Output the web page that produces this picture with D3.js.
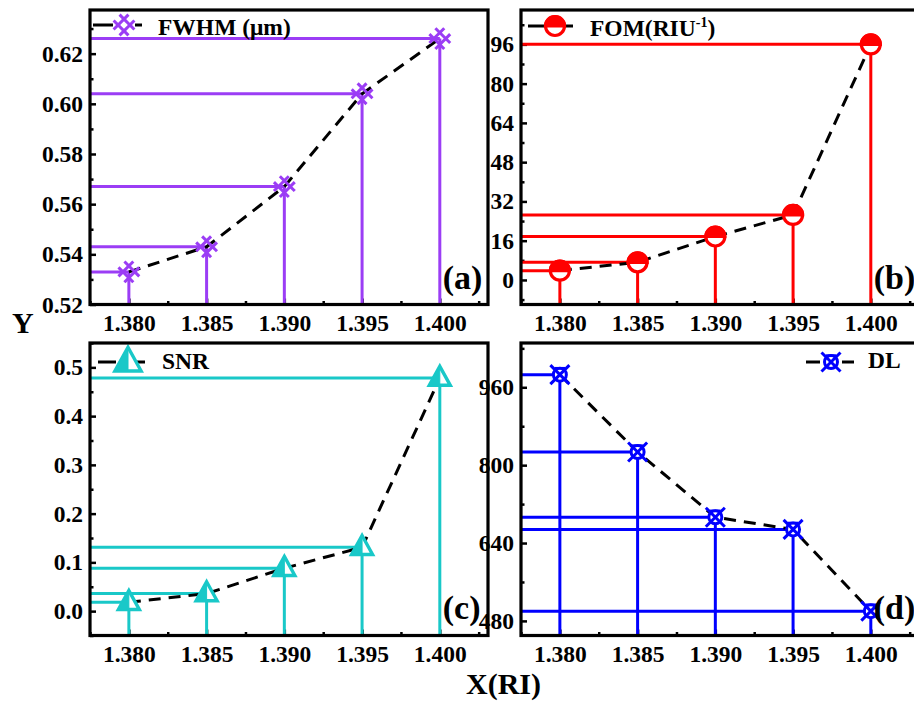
<!DOCTYPE html>
<html>
<head>
<meta charset="utf-8">
<script src="https://cdn.jsdelivr.net/npm/d3@7"></script>
<style>
  body { margin: 0; background: #fff; }
  svg { display: block; }
  text { font-family: "Liberation Serif", "Times New Roman", serif; font-weight: bold; fill: #000; }
</style>
</head>
<body>
<svg id="chart" width="914" height="703"></svg>
<script>
// Refractive index values (shared x for all four panels)
const riValues = [1.380, 1.385, 1.390, 1.395, 1.400];
const xTickValues = [1.380, 1.385, 1.390, 1.395, 1.400];
const xTickLabels = ["1.380", "1.385", "1.390", "1.395", "1.400"];

// Sensor metrics
const fwhmValues = [0.533, 0.543, 0.567, 0.604, 0.626];
const fomValues = [3.8, 7.2, 17.7, 26.5, 96];
const snrValues = [0.018, 0.036, 0.088, 0.131, 0.478];
const dlValues = [986, 827, 693, 668, 500];

// Y tick values per panel
const fwhmTicks = [0.52, 0.54, 0.56, 0.58, 0.60, 0.62];
const fomTicks = [0, 16, 32, 48, 64, 80, 96];
const snrTicks = [0.0, 0.1, 0.2, 0.3, 0.4, 0.5];
const dlTicks = [480, 640, 800, 960];

const panelLetters = ["(a)", "(b)", "(c)", "(d)"];

const svg = d3.select("#chart");
const FONT = 23.5;

const panels = [
  { values: fwhmValues, ticks: fwhmTicks, fmt: d3.format(".2f"), minor: 0.01,
    box: { l: 90, t: 10, r: 488, b: 304.5 }, yDomain: [0.52, 0.6374],
    color: "#9B3DF5", marker: "hash", name: "FWHM (μm)",
    legend: { mx: 34, my: 15, l0: -31, l1: -11, r0: 11, r1: 18, tx: 68, ty: 25 } },
  { values: fomValues, ticks: fomTicks, fmt: d3.format("d"), minor: 8,
    box: { l: 521, t: 10, r: 919, b: 304.5 }, yDomain: [-10, 110],
    color: "#FF0000", marker: "halfCircle", name: "FOM",
    legend: { mx: 34, my: 16, l0: -27, l1: -11, r0: 11, r1: 18, tx: 69, ty: 26 } },
  { values: snrValues, ticks: snrTicks, fmt: d3.format(".1f"), minor: 0.05,
    box: { l: 90, t: 343, r: 488, b: 635.5 }, yDomain: [-0.05, 0.55],
    color: "#19C8C8", marker: "triangle", name: "SNR",
    legend: { mx: 38, my: 19, l0: -30, l1: -12, r0: 8, r1: 17, tx: 72, ty: 26 } },
  { values: dlValues, ticks: dlTicks, fmt: d3.format("d"), minor: 80,
    box: { l: 521, t: 343, r: 919, b: 635.5 }, yDomain: [450, 1051],
    color: "#0000FF", marker: "crossCircle", name: "DL",
    legend: { mx: 310, my: 19, l0: -25, l1: -11, r0: 11, r1: 23, tx: 347, ty: 25 } }
];

function drawMarker(g, type, color, cx, cy, s) {
  const m = g.append("g").attr("transform", `translate(${cx},${cy})`);
  const sw = 3;
  if (type === "hash") {
    const L = 10.5 * s, d = 4.2 * s;
    // two pairs of parallel diagonals (a rotated '#')
    [[-1, 1], [1, 1]].forEach(([ux, uy]) => {
      const n = Math.SQRT1_2;
      const dx = ux * n, dy = uy * n;      // direction
      const px = -dy, py = dx;             // perpendicular
      [-d, d].forEach(o => {
        m.append("line")
          .attr("x1", -dx * L + px * o).attr("y1", -dy * L + py * o)
          .attr("x2", dx * L + px * o).attr("y2", dy * L + py * o)
          .attr("stroke", color).attr("stroke-width", sw);
      });
    });
  } else if (type === "halfCircle") {
    const r = 9.5 * s;
    m.append("circle").attr("r", r).attr("fill", "#fff")
      .attr("stroke", color).attr("stroke-width", 3.2);
    m.append("path")
      .attr("d", `M${-r},0 A${r},${r} 0 0 1 ${r},0 Z`)
      .attr("fill", color).attr("stroke", color).attr("stroke-width", 3.2);
  } else if (type === "triangle") {
    const w = 10.5 * s, h = 19 * s;
    const top = -h * 0.62, base = h * 0.38;
    m.append("path")
      .attr("d", `M0,${top} L${w},${base} L${-w},${base} Z`)
      .attr("fill", "#fff").attr("stroke", color).attr("stroke-width", 3.4)
      .attr("stroke-linejoin", "miter");
    m.append("path")
      .attr("d", `M0,${top} L0,${base} L${-w},${base} Z`)
      .attr("fill", color).attr("stroke", color).attr("stroke-width", 1);
  } else if (type === "crossCircle") {
    const L = 9.5 * s, r = 6.5 * s;
    m.append("circle").attr("r", r).attr("fill", "#fff")
      .attr("stroke", color).attr("stroke-width", sw);
    m.append("line").attr("x1", -L).attr("y1", -L).attr("x2", L).attr("y2", L)
      .attr("stroke", color).attr("stroke-width", sw);
    m.append("line").attr("x1", -L).attr("y1", L).attr("x2", L).attr("y2", -L)
      .attr("stroke", color).attr("stroke-width", sw);
    m.append("line").attr("x1", -L * 0.55).attr("y1", -r).attr("x2", L * 0.55).attr("y2", -r)
      .attr("stroke", color).attr("stroke-width", 2.4);
  }
}

const frameLayer = [];

panels.forEach((p, i) => {
  const { l, t, r, b } = p.box;
  const x = d3.scaleLinear().domain([1.3775, 1.4031]).range([l, r]);
  const y = d3.scaleLinear().domain(p.yDomain).range([b, t]);
  const g = svg.append("g");

  // axes: major ticks pointing inward, minor ticks between
  const xMinor = d3.range(1.3775, 1.4031, 0.0025).filter(v => Math.abs(((v - 1.38) / 0.005) - Math.round((v - 1.38) / 0.005)) > 0.1);
  const xAxis = g.append("g").attr("transform", `translate(0,${b})`)
    .call(d3.axisBottom(x).tickValues(xTickValues)
      .tickFormat((d, k) => xTickLabels[k]).tickSize(-6).tickPadding(10));
  xAxis.select(".domain").remove();
  xAxis.selectAll("text").style("font-size", FONT + "px");
  xAxis.selectAll("line").attr("stroke-width", 2.5);
  const xAxisMinor = g.append("g").attr("transform", `translate(0,${b})`)
    .call(d3.axisBottom(x).tickValues(xMinor).tickFormat("").tickSize(-3.5));
  xAxisMinor.select(".domain").remove();
  xAxisMinor.selectAll("line").attr("stroke-width", 2.5);

  const [y0, y1] = p.yDomain;
  const yMinor = d3.range(Math.ceil(y0 / p.minor) * p.minor, y1, p.minor)
    .filter(v => !p.ticks.some(tk => Math.abs(tk - v) < p.minor * 0.1));
  const yAxis = g.append("g").attr("transform", `translate(${l},0)`)
    .call(d3.axisLeft(y).tickValues(p.ticks).tickFormat(p.fmt).tickSize(-6).tickPadding(7));
  yAxis.select(".domain").remove();
  yAxis.selectAll("text").style("font-size", FONT + "px");
  yAxis.selectAll("line").attr("stroke-width", 2.5);
  const yAxisMinor = g.append("g").attr("transform", `translate(${l},0)`)
    .call(d3.axisLeft(y).tickValues(yMinor).tickFormat("").tickSize(-3.5));
  yAxisMinor.select(".domain").remove();
  yAxisMinor.selectAll("line").attr("stroke-width", 2.5);

  const pts = riValues.map((ri, k) => ({ ri, v: p.values[k] }));

  // drop lines to the left and bottom axes
  g.selectAll(".hdrop").data(pts).enter().append("line")
    .attr("x1", l).attr("x2", d => x(d.ri))
    .attr("y1", d => y(d.v)).attr("y2", d => y(d.v))
    .attr("stroke", p.color).attr("stroke-width", 3);
  g.selectAll(".vdrop").data(pts).enter().append("line")
    .attr("x1", d => x(d.ri)).attr("x2", d => x(d.ri))
    .attr("y1", d => y(d.v)).attr("y2", b)
    .attr("stroke", p.color).attr("stroke-width", 3);

  // dashed connecting line
  g.append("path").datum(pts)
    .attr("d", d3.line().x(d => x(d.ri)).y(d => y(d.v)))
    .attr("fill", "none").attr("stroke", "#000").attr("stroke-width", 3)
    .attr("stroke-dasharray", "12,8");

  pts.forEach(d => drawMarker(g, p.marker, p.color, x(d.ri), y(d.v), 1));

  // legend
  const lg = p.legend;
  const mx = l + lg.mx, my = t + lg.my;
  g.append("line").attr("x1", mx + lg.l0).attr("x2", mx + lg.l1).attr("y1", my).attr("y2", my)
    .attr("stroke", "#000").attr("stroke-width", 3);
  g.append("line").attr("x1", mx + lg.r0).attr("x2", mx + lg.r1).attr("y1", my).attr("y2", my)
    .attr("stroke", "#000").attr("stroke-width", 3);
  drawMarker(g, p.marker, p.color, mx, my, p.marker === "triangle" ? 1.25 : 1);
  const lt = g.append("text").attr("x", l + lg.tx).attr("y", t + lg.ty).style("font-size", FONT + "px");
  if (p.name === "FOM") {
    lt.append("tspan").text("FOM(RIU");
    lt.append("tspan").attr("dy", -9).style("font-size", "14px").text("-1");
    lt.append("tspan").attr("dy", 9).text(")");
  } else {
    lt.text(p.name);
  }

  // panel letter
  g.append("text").attr("x", x(1.400) + 3).attr("y", i < 2 ? 289 : 619)
    .style("font-size", "34px").text(panelLetters[i]);

  frameLayer.push(p.box);
});

// frames on top of everything
frameLayer.forEach(({ l, t, r, b }) => {
  svg.append("rect").attr("x", l).attr("y", t).attr("width", r - l).attr("height", b - t)
    .attr("fill", "none").attr("stroke", "#000").attr("stroke-width", 3.2);
});

// shared axis titles
svg.append("text").attr("x", 12).attr("y", 333).style("font-size", "30px").text("Y");
svg.append("text").attr("x", 466).attr("y", 694).style("font-size", "30px").text("X(RI)");
</script>
</body>
</html>
